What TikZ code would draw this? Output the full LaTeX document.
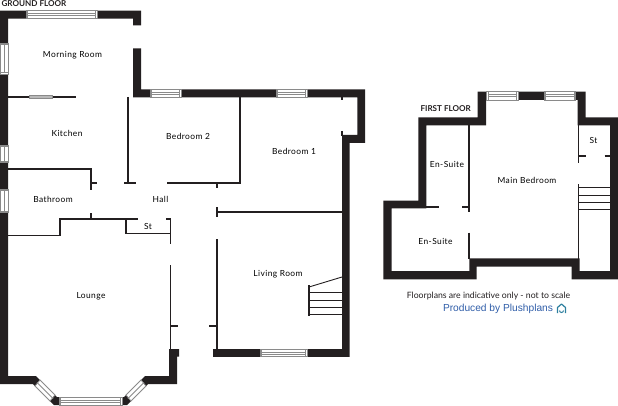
\documentclass[tikz,border=0pt]{standalone}
\usepackage{fontspec}
\setmainfont{Lato}
\newfontfamily\arialish{Liberation Sans}
\newfontfamily\roomfont[LetterSpace=5]{Lato}
\definecolor{wallc}{HTML}{231F20}
\definecolor{winc}{HTML}{8A8A8A}
\definecolor{linkc}{HTML}{2F5DA8}
\definecolor{iconc}{HTML}{2C7F9E}
\tikzset{
  wall/.style={fill=wallc,draw=none},
  thin wall/.style={draw=wallc,line width=1.7pt},
  thin step/.style={draw=wallc,line width=.9pt},
  room/.style={font=\roomfont\fontsize{8.4}{10}\selectfont,text=black,inner sep=0pt},
  heading/.style={font=\bfseries\fontsize{8.1}{9}\selectfont,text=wallc,inner sep=0pt},
  note/.style={font=\fontsize{8.7}{12}\selectfont,text=wallc,inner sep=0pt},
  glass/.style={fill=white,draw=winc,line width=.8pt},
  pane/.style={draw=winc,line width=.8pt},
}
% horizontal window: x1,x2,y1,y2
\newcommand{\hwin}[4]{%
  \path[glass] (#1,#3) rectangle (#2,#4);
  \draw[pane] (#1+1.5,#3) -- (#1+1.5,#4) (#2-1.5,#3) -- (#2-1.5,#4);
  \draw[pane] (#1+1.5,{(#3+#4)/2-1}) -- (#2-1.5,{(#3+#4)/2-1});
  \draw[pane] (#1+1.5,{(#3+#4)/2+1}) -- (#2-1.5,{(#3+#4)/2+1});
}
% vertical window: y1,y2,x1,x2
\newcommand{\vwin}[4]{%
  \path[glass] (#3,#1) rectangle (#4,#2);
  \draw[pane] (#3,#1+1.5) -- (#4,#1+1.5) (#3,#2-1.5) -- (#4,#2-1.5);
  \draw[pane] ({(#3+#4)/2},#1+1.5) -- ({(#3+#4)/2},#2-1.5);
}
\begin{document}
\begin{tikzpicture}[x=1pt,y=-1pt]
\useasboundingbox (0,0) rectangle (618,406);
% ---------- ground floor: walls
\path[wall] (0,10.7) -- (141,10.7) -- (141,25.3) -- (133,25.3) -- (133,18.7) -- (8,18.7) -- (8,376) -- (36,376) -- (57,397) -- (59,397) -- (59,405) -- (54,405) -- (33,384) -- (0,384) -- cycle;
\path[wall] (133,48.3) -- (141,48.3) -- (141,89.3) -- (365,89.3) -- (365,143) -- (349.5,143) -- (349.5,356.8) -- (213,356.8) -- (213,349) -- (342,349) -- (342,135) -- (357.3,135) -- (357.3,97.5) -- (133,97.5) -- cycle;
\path[wall] (179,349) -- (179,356.7) -- (177,356.7) -- (177,384) -- (148,384) -- (127,405) -- (122,405) -- (122,397) -- (124,397) -- (145,376) -- (169,376) -- (169,349) -- cycle;
% ground floor: windows
\hwin{26}{97}{10.7}{18.7}
\vwin{43}{74}{0}{8}
\vwin{145}{162.5}{0}{8}
\vwin{189}{212.7}{0}{8}
\hwin{150}{181}{89.3}{97.5}
\hwin{276}{307}{89.3}{97.5}
\hwin{260}{307}{349}{356.8}
\hwin{59}{122}{397}{405}
\path[glass] (40,380) -- (55,395) -- (50,401) -- (35,386) -- cycle;
\draw[pane] (37,382.5) -- (52,397.5) (38,383.5) -- (53,398.5);
\path[glass] (141,380) -- (126,395) -- (131,401) -- (146,386) -- cycle;
\draw[pane] (144,382.5) -- (129,397.5) (143,383.5) -- (128,398.5);
% ground floor: partition walls
\draw[thin wall] (8,97) -- (76,97);
\path[fill=winc!60,draw=winc,line width=.6pt] (29.3,95.3) rectangle (52,98.7);
\draw[thin wall] (8,169) -- (91,169) -- (91,190.3);
\draw[thin wall] (91,183) -- (97,183);
\draw[thin wall] (128,97) -- (128,183);
\draw[thin wall] (124,183) -- (136,183);
\draw[thin wall] (167,183) -- (240,183) -- (240,97);
\draw[thin wall] (217,183) -- (217,188);
\draw[thin wall] (217,211.7) -- (343,211.7);
\draw[thin wall] (217,207) -- (217,216.5);
\draw[thin wall] (342,97) -- (342,100.5);
\draw[thin wall] (342,131) -- (342,136);
\draw[thin wall] (8,235.5) -- (60,235.5) -- (60,219) -- (138,219);
\draw[thin wall] (91,213) -- (91,219);
\draw[thin wall] (126,219) -- (126,233.5) -- (170.5,233.5);
\draw[thin wall] (166,219) -- (170.5,219) -- (170.5,243.5);
\draw[thin wall] (170.5,265) -- (170.5,350);
\draw[thin wall] (170.5,326) -- (178,326);
\draw[thin wall] (217,239.3) -- (217,350);
\draw[thin wall] (209,326) -- (217,326);
% ground floor: stairs
\draw[thin wall] (309,285) -- (309,315.5);
\draw[thin step] (309,287) -- (342,277);
\draw[thin step] (309,292.3) -- (342,292.3) (309,300) -- (342,300) (309,307.5) -- (342,307.5) (309,314.7) -- (342,314.7);
% ---------- first floor
\path[wall,even odd rule]
  (477.7,91.7) -- (585.7,91.7) -- (585.7,117.3) -- (618,117.3) -- (618,279.3) -- (571.7,279.3) -- (571.7,266.7) -- (476.7,266.7) -- (476.7,279.3) -- (383.3,279.3) -- (383.3,200.7) -- (418.3,200.7) -- (418.3,117.3) -- (477.7,117.3) -- cycle
  (486,100) -- (577.7,100) -- (577.7,125.3) -- (610,125.3) -- (610,271) -- (579.7,271) -- (579.7,258.3) -- (469.3,258.3) -- (469.3,271) -- (391.7,271) -- (391.7,208.3) -- (426.3,208.3) -- (426.3,125.3) -- (486,125.3) -- cycle;
\hwin{486.7}{518}{91.7}{100}
\hwin{544}{575.5}{91.7}{100}
\draw[thin wall] (469.3,125) -- (469.3,212);
\draw[thin wall] (469.3,232.7) -- (469.3,259);
\draw[thin wall] (426,206.7) -- (439,206.7);
\draw[thin wall] (462,206.7) -- (469.3,206.7);
\draw[thin wall] (578.5,125) -- (578.5,163.3);
\draw[thin wall] (578.5,184.3) -- (578.5,259);
\draw[thin wall] (578.5,155.7) -- (586,155.7);
\draw[thin wall] (604.7,155.7) -- (610,155.7);
\draw[thin step] (578.5,187.3) -- (610,187.3) (578.5,195) -- (610,195) (578.5,202.3) -- (610,202.3) (578.5,209.7) -- (610,209.7);
% ---------- labels
\node[heading] (gf) at (34,3.5) {GROUND FLOOR};
\node[heading] (ff) at (445.7,109) {FIRST FLOOR};
\node[room] (morning) at (72.5,55) {Morning Room};
\node[room] (kitchen) at (67,133) {Kitchen};
\node[room] (bath) at (53,199) {Bathroom};
\node[room] (hall) at (160.5,199) {Hall};
\node[room] (bed2) at (188,136) {Bedroom 2};
\node[room] (bed1) at (294,151) {Bedroom 1};
\node[room] (st1) at (148,226) {St};
\node[room] (lounge) at (91,296) {Lounge};
\node[room] (living) at (278,274) {Living Room};
\node[room] (ens1) at (447,164) {En-Suite};
\node[room] (ens2) at (435.5,241) {En-Suite};
\node[room] (main) at (527,180) {Main Bedroom};
\node[room] (st2) at (593.5,140) {St};
\node[note] (disc) at (488.5,296) {Floorplans are indicative only - not to scale};
\node[font=\arialish\fontsize{10.2}{12}\selectfont,text=linkc,inner sep=0pt] (prod) at (498,309) {Produced by Plushplans};
% logo
\draw[iconc,line width=1.2pt,line join=round] (557.5,313) -- (557.5,307.5) -- (561.5,304) -- (565.5,307.5) -- (565.5,313);
\draw[iconc,line width=1pt] (559.5,310.5) arc[start angle=180,end angle=0,radius=2];
\end{tikzpicture}
\end{document}
